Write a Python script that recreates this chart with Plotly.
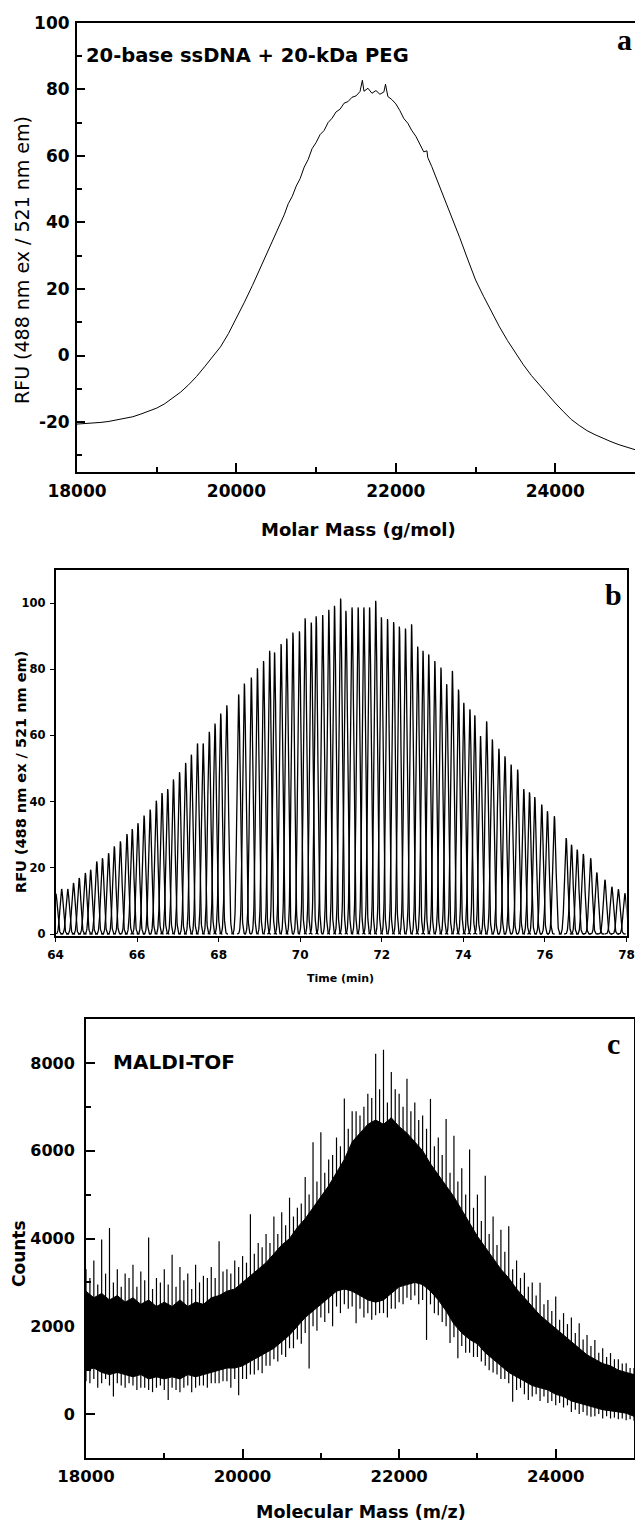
import numpy as np
import plotly.graph_objects as go

W, H = 635, 1522

# ---------------- Panel a data ----------------
mass_a = [18000, 18100, 18200, 18300, 18400, 18500, 18600, 18700, 18800, 18900,
          19000, 19100, 19200, 19300, 19400, 19500, 19600, 19700, 19800, 19900,
          20000, 20100, 20200, 20300, 20400,
          20500, 20550, 20600, 20650, 20700, 20750, 20800, 20850, 20900, 20950,
          21000, 21050, 21100, 21150, 21200, 21250, 21300, 21350, 21400, 21450,
          21500, 21550, 21580, 21600, 21650, 21700, 21750, 21800, 21850, 21870,
          21900, 21950, 22000, 22050, 22100, 22150, 22200, 22250, 22300, 22350,
          22390, 22400, 22450, 22500, 22550, 22600, 22650, 22700,
          22800, 22900, 23000, 23100, 23200, 23300, 23400,
          23500, 23600, 23700, 23800, 23900, 24000, 24100, 24200, 24300, 24400,
          24500, 24600, 24700, 24800, 24900, 25000]
rfu_a = [-20.6, -20.5, -20.4, -20.1, -19.8, -19.3, -18.9, -18.4, -17.6, -16.8,
         -15.8, -14.5, -12.8, -11.0, -8.8, -6.3, -3.4, -0.5, 2.6, 6.6,
         11.2, 16.0, 21.0, 26.3, 31.8,
         37.2, 39.8, 42.3, 45.6, 47.8, 50.9, 53.2, 56.6, 58.9, 62.2,
         64.0, 66.4, 67.6, 70.0, 71.3, 73.2, 74.0, 75.8, 76.3, 77.6,
         78.0, 79.3, 82.7, 79.4, 80.3, 78.8, 79.6, 78.5, 79.2, 81.5,
         77.8, 76.9, 75.6, 73.6, 71.2, 69.8, 67.6, 65.9, 63.4, 61.2,
         61.5, 59.5, 56.8, 53.8, 50.6, 47.6, 44.5, 41.6,
         35.5, 29.0, 22.7, 17.8, 13.0, 8.6, 4.5,
         0.7, -2.8, -6.0, -8.8, -11.6, -14.3, -16.8, -19.2, -21.0, -22.6,
         -23.8, -24.9, -25.9, -26.8, -27.5, -28.3]
ticks_a_x = [18000, 20000, 22000, 24000]
labels_a_x = ["18000", "20000", "22000", "24000"]
ticks_a_y = [-20, 0, 20, 40, 60, 80, 100]
labels_a_y = ["-20", "0", "20", "40", "60", "80", "100"]

# ---------------- Panel b data ----------------
peak_time_b = [64.01, 64.15, 64.30, 64.44, 64.58, 64.73, 64.86, 65.01, 65.15, 65.30,
               65.44, 65.59, 65.75, 65.88, 66.02, 66.17, 66.32, 66.47, 66.61, 66.75,
               66.89, 67.04, 67.19, 67.33, 67.48, 67.62, 67.77, 67.91, 68.05, 68.20,
               68.49, 68.63, 68.80, 68.95, 69.10, 69.25, 69.37, 69.53, 69.67, 69.82,
               69.98, 70.12, 70.27, 70.39, 70.55, 70.70, 70.84, 70.99, 71.12, 71.27,
               71.42, 71.56, 71.70, 71.85, 71.99, 72.14, 72.29, 72.43, 72.58, 72.73,
               72.88, 73.01, 73.15, 73.30, 73.45, 73.59, 73.73, 73.88, 74.01, 74.16,
               74.28, 74.42, 74.57, 74.71, 74.87, 75.02, 75.17, 75.33, 75.48, 75.62,
               75.75, 75.92, 76.06, 76.23, 76.52, 76.65, 76.79, 76.94, 77.12, 77.27,
               77.47, 77.64, 77.80, 77.96]
peak_height_b = [12.1, 13.6, 13.6, 15.4, 16.9, 18.4, 19.4, 21.9, 22.9, 24.4,
                 26.5, 28.0, 30.2, 31.7, 33.5, 35.8, 37.6, 40.3, 42.6, 43.8,
                 46.7, 48.9, 51.7, 54.2, 57.6, 57.6, 61.1, 63.6, 66.6, 69.1,
                 72.4, 75.7, 77.5, 80.3, 82.5, 85.6, 85.1, 87.6, 89.3, 91.1,
                 91.5, 95.4, 94.1, 96.0, 96.4, 98.0, 99.2, 101.4, 97.7, 98.7,
                 98.7, 98.7, 98.7, 100.7, 95.7, 95.2, 94.3, 92.9, 92.3, 93.6,
                 86.9, 85.6, 84.5, 82.5, 80.5, 75.5, 79.5, 73.9, 69.9, 67.9,
                 66.1, 59.8, 64.3, 58.8, 56.0, 53.7, 51.2, 49.7, 43.8, 42.8,
                 41.4, 39.1, 37.1, 35.6, 29.0, 27.0, 25.5, 24.2, 22.9, 18.6,
                 16.4, 14.3, 13.5, 12.3]
peak_sigma_b = 0.04
ticks_b_x = [64, 66, 68, 70, 72, 74, 76, 78]
labels_b_x = ["64", "66", "68", "70", "72", "74", "76", "78"]
ticks_b_y = [0, 20, 40, 60, 80, 100]
labels_b_y = ["0", "20", "40", "60", "80", "100"]

# ---------------- Panel c data ----------------
mass_c = list(range(18000, 25001, 100))
upper_c = [2800, 2650, 2750, 2600, 2700, 2550, 2650, 2500, 2600, 2450,
           2550, 2450, 2600, 2450, 2550, 2500, 2650, 2700, 2800, 2850,
           3000, 3150, 3300, 3450, 3650, 3850, 4000, 4250, 4450, 4700,
           4950, 5200, 5500, 5800, 6200, 6400, 6600, 6700, 6600, 6750,
           6550, 6400, 6200, 6000, 5700, 5450, 5200, 4950, 4650, 4350,
           4050, 3800, 3550, 3300, 3100, 2850, 2650, 2450, 2250, 2100,
           1950, 1800, 1650, 1500, 1350, 1250, 1150, 1100, 1000, 950, 900]
lower_c = [1000, 1050, 950, 900, 950, 900, 850, 900, 800, 850,
           800, 850, 800, 900, 850, 900, 950, 1000, 1050, 1050,
           1100, 1200, 1300, 1400, 1500, 1650, 1800, 2000, 2200, 2350,
           2500, 2650, 2800, 2850, 2800, 2700, 2600, 2550, 2600, 2750,
           2900, 2950, 3000, 2950, 2800, 2600, 2350, 2050, 1850, 1700,
           1600, 1400, 1250, 1100, 950, 850, 750, 650, 600, 550,
           450, 400, 300, 250, 200, 150, 100, 80, 50, 20, -50]
# spike tips
mass_c_half = list(range(18050, 25000, 100))
spike_up_c = [3300, 3500, 3980, 4240, 3300, 3200, 3400, 3250, 4020, 3100,
              3300, 3630, 3350, 3200, 3400, 3150, 3350, 3940, 3300, 3500,
              3600, 4550, 3900, 4100, 4500, 4600, 4930, 4700, 5400, 6190,
              6420, 5800, 6300, 7190, 6900, 6800, 7300, 8210, 8300, 7790,
              7300, 7640, 7100, 6800, 7180, 6300, 6720, 6340, 5600, 6030,
              5000, 5430, 4500, 4200, 4280, 3500, 3220, 3000, 2990, 2600,
              2680, 2300, 2200, 2070, 1800, 1690, 1500, 1390, 1250, 1160, 1050]
spike_up_half_c = [3100, 2950, 3200, 3000, 2900, 3100, 2900, 3050, 2850, 3000,
                   2950, 2900, 3050, 2850, 3000, 3100, 3100, 3250, 3200, 3350,
                   3450, 3650, 3800, 3900, 4100, 4300, 4500, 4800, 5000, 5300,
                   5500, 5900, 6100, 6500, 6900, 7000, 7200, 7400, 7100, 7400,
                   7000, 6900, 6700, 6500, 6100, 5900, 5500, 5300, 5000, 4700,
                   4400, 4100, 3850, 3700, 3300, 3100, 2900, 2700, 2500, 2350,
                   2150, 2050, 1850, 1700, 1550, 1400, 1300, 1250, 1150, 1050]
spike_dn_half_c = [700, 600, 800, 400, 650, 700, 550, 600, 500, 650,
                   320, 550, 600, 500, 650, 600, 700, 750, 600, 430,
                   800, 900, 930, 1100, 1200, 1300, 1500, 1600, 1040, 1900,
                   2100, 2000, 2300, 2400, 2070, 2200, 2150, 2300, 2200, 2400,
                   2500, 2600, 2500, 1690, 2300, 2100, 1620, 1270, 1400, 1300,
                   1200, 1000, 900, 800, 280, 600, 320, 450, 400, 300,
                   250, 200, 100, 50, -60, 0, -50, -80, -100, -120]
spike_dn_c = [750, 800, 700, 650, 700, 600, 650, 600, 550, 600,
              550, 600, 500, 650, 600, 650, 700, 700, 750, 800,
              800, 900, 1000, 1100, 1250, 1350, 1500, 1700, 1850, 2000,
              2200, 2300, 2450, 2500, 2450, 2400, 2300, 2250, 2300, 2400,
              2550, 2650, 2700, 2600, 2500, 2250, 2000, 1750, 1550, 1400,
              1300, 1100, 950, 800, 700, 550, 450, 400, 300, 250,
              200, 150, 50, 0, -30, -50, -100, -100, -120, -140, -150]
ticks_c_x = [18000, 20000, 22000, 24000]
labels_c_x = ["18000", "20000", "22000", "24000"]
ticks_c_y = [0, 2000, 4000, 6000, 8000]
labels_c_y = ["0", "2000", "4000", "6000", "8000"]


def px(x):
    return x / W


def py(y):
    return 1 - y / H


fig = go.Figure()

# panel a
fig.add_trace(go.Scatter(x=mass_a, y=rfu_a, mode="lines",
                         line=dict(color="black", width=1), xaxis="x", yaxis="y",
                         showlegend=False, hoverinfo="skip"))

# panel b: each peak drawn as its own curve
bx, by = [], []
for t0, h in zip(peak_time_b, peak_height_b):
    tt = np.linspace(t0 - 0.18, t0 + 0.18, 73)
    yy = h * np.exp(-0.5 * ((tt - t0) / peak_sigma_b) ** 2)
    bx.extend(tt.tolist() + [None])
    by.extend(yy.tolist() + [None])
fig.add_trace(go.Scatter(x=bx, y=by, mode="lines",
                         line=dict(color="black", width=1.3), xaxis="x2", yaxis="y2",
                         showlegend=False, hoverinfo="skip"))

# panel c: dense core + vertical spikes
fig.add_trace(go.Scatter(x=mass_c + mass_c[::-1], y=upper_c + lower_c[::-1],
                         mode="lines", fill="toself", fillcolor="black",
                         line=dict(color="black", width=1), xaxis="x3", yaxis="y3",
                         showlegend=False, hoverinfo="skip"))
sx, sy = [], []
for masses, tips, env, off in [(mass_c, spike_up_c, upper_c, -250),
                               (mass_c_half, spike_up_half_c, upper_c, -250),
                               (mass_c, spike_dn_c, lower_c, 250),
                               (mass_c_half, spike_dn_half_c, lower_c, 250)]:
    base = np.interp(masses, mass_c, env)
    for m, v, b in zip(masses, tips, base):
        sx += [m, m, None]
        sy += [float(b) + off, v, None]
fig.add_trace(go.Scatter(x=sx, y=sy, mode="lines",
                         line=dict(color="black", width=1.2), xaxis="x3", yaxis="y3",
                         showlegend=False, hoverinfo="skip"))

bold = dict(family="DejaVu Sans", color="black", weight="bold")

common = dict(showgrid=False, zeroline=False, showline=True, linecolor="black",
              tickcolor="black", automargin=False)

fig.update_layout(
    width=W, height=H, margin=dict(l=0, r=0, t=0, b=0),
    paper_bgcolor="white", plot_bgcolor="white",
    xaxis=dict(domain=[px(77), 1.0], range=[18000, 25000], tickvals=ticks_a_x,
               ticktext=labels_a_x,
               ticks="inside", ticklen=9, tickwidth=2, linewidth=2, mirror=True,
               tickfont=dict(size=17, **bold), ticklabelstandoff=3,
               minor=dict(dtick=1000, tick0=18000, ticks="inside", ticklen=5,
                          tickwidth=1.5, tickcolor="black"),
               anchor="y", **common),
    yaxis=dict(domain=[py(472), py(22.7)], range=[-35, 100], tickvals=ticks_a_y,
               ticktext=labels_a_y,
               ticks="inside", ticklen=8, tickwidth=2, linewidth=2,
               tickfont=dict(size=17, **bold), ticklabelstandoff=2,
               minor=dict(dtick=10, tick0=0, ticks="inside", ticklen=5,
                          tickwidth=1.5, tickcolor="black"),
               anchor="x", **common),
    xaxis2=dict(domain=[px(55.5), px(626.5)], range=[64, 78], tickvals=ticks_b_x,
                ticktext=labels_b_x,
                ticks="outside", ticklen=4, tickwidth=1.2, linewidth=1.5, mirror=True,
                tickfont=dict(size=12, **bold), ticklabelstandoff=3,
                anchor="y2", **common),
    yaxis2=dict(domain=[py(936), py(570)], range=[-0.6, 110], tickvals=ticks_b_y,
                ticktext=labels_b_y,
                ticks="outside", ticklen=4, tickwidth=1.2, linewidth=1.5, mirror=True,
                tickfont=dict(size=11.5, **bold), ticklabelstandoff=2,
                anchor="x2", **common),
    xaxis3=dict(domain=[px(86), px(634)], range=[18000, 25000], tickvals=ticks_c_x,
                ticktext=labels_c_x,
                ticks="inside", ticklen=9, tickwidth=2, linewidth=2, mirror=True,
                tickfont=dict(size=16.5, **bold), ticklabelstandoff=2,
                minor=dict(dtick=1000, tick0=18000, ticks="inside", ticklen=5,
                           tickwidth=1.5, tickcolor="black"),
                anchor="y3", **common),
    yaxis3=dict(domain=[py(1458), py(1019)], range=[-1000, 9000], tickvals=ticks_c_y,
                ticktext=labels_c_y,
                ticks="inside", ticklen=9, tickwidth=2, linewidth=2, mirror=True,
                tickfont=dict(size=16, **bold), ticklabelstandoff=6,
                minor=dict(dtick=1000, tick0=0, ticks="inside", ticklen=5,
                           tickwidth=1.5, tickcolor="black"),
                anchor="x3", **common),
)

ann = []


def add(text, x, y, size, xanchor="center", yanchor="middle", angle=0,
        family="DejaVu Sans", weight="bold"):
    ann.append(dict(text=text, x=px(x), y=py(y), xref="paper", yref="paper",
                    showarrow=False, xanchor=xanchor, yanchor=yanchor, textangle=angle,
                    font=dict(family=family, size=size, color="black", weight=weight)))


# panel a texts
add("20-base ssDNA + 20-kDa PEG", 84, 56, 19.5, xanchor="left")
add("a", 624, 39, 30, family="Liberation Serif")
add("Molar Mass (g/mol)", 358, 530, 18)
add("RFU (488 nm ex / 521 nm em)", 22, 260, 19, angle=-90, weight="normal")
# panel b texts
add("b", 613, 594, 30, family="Liberation Serif")
add("Time (min)", 340, 978, 11)
add("RFU (488 nm ex / 521 nm em)", 21, 772, 14.5, angle=-90)
# panel c texts
add("MALDI-TOF", 111, 1062, 20, xanchor="left")
add("c", 613, 1043, 30, family="Liberation Serif")
add("Molecular Mass (m/z)", 361, 1512, 17.5)
add("Counts", 19, 1254, 17, angle=-90)

fig.update_layout(annotations=ann)

fig.write_html("out.html")
